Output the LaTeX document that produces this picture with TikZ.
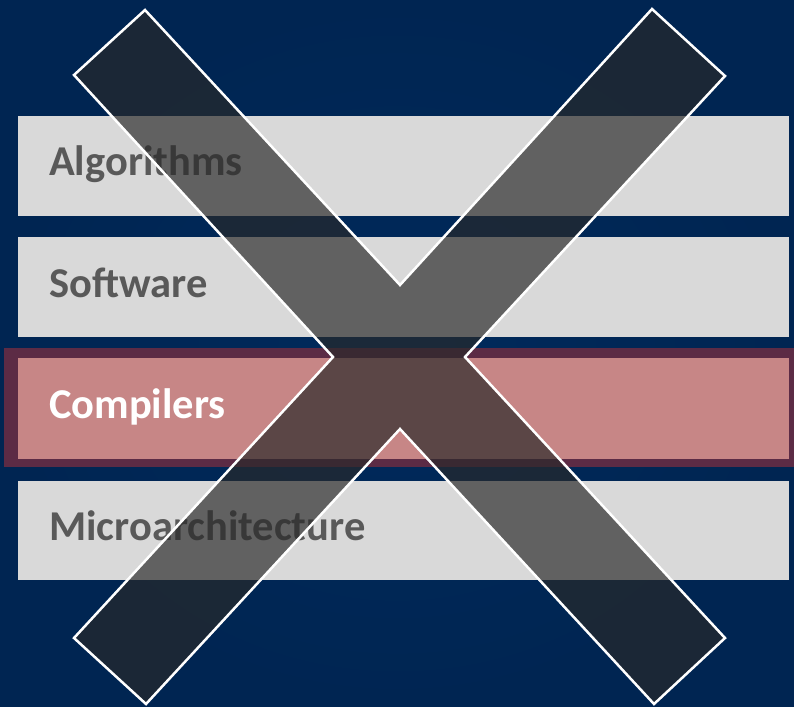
\documentclass[tikz,border=0pt]{standalone}
\usepackage{fontspec}
\setmainfont{Carlito}
\definecolor{bgblue}{RGB}{0,40,88}
\definecolor{bargray}{RGB}{217,217,217}
\definecolor{txtgray}{RGB}{89,89,89}
\definecolor{pinkfill}{RGB}{199,134,134}
\definecolor{pinkborder}{RGB}{92,43,69}
\definecolor{xfill}{RGB}{41,41,41}
\tikzset{
  bar/.style={fill=bargray, draw=none},
  lbl/.style={anchor=base west, inner sep=0pt, font=\fontsize{42.5}{42.5}\selectfont\bfseries, text=txtgray},
  xshape/.style={fill=xfill, fill opacity=0.68, draw=white, line width=2.5pt, line join=miter}
}
\begin{document}
\begin{tikzpicture}[x=1pt,y=-1pt]
\useasboundingbox (0,0) rectangle (794,706);
\begin{scope}
\clip (0,0) rectangle (794,706);
\shade[inner color={rgb,255:red,0;green,42;blue,92}, outer color={rgb,255:red,0;green,37;blue,82}] (0,0) rectangle (794,706);
% bars
\fill[bar] (18,116) rectangle (789,216);
\fill[bar] (18,237) rectangle (789,337);
\fill[pinkborder] (4,348) rectangle (800,467);
\fill[pinkfill] (18,358) rectangle (789,459);
\fill[bar] (18,481) rectangle (789,580);
\node[lbl] (alg) at (49,175) {Algorithms};
\node[lbl] (sw) at (49,297) {Software};
\node[lbl, text=white] (comp) at (49,418) {Compilers};
\node[lbl] (micro) at (49,540) {Microarchitecture};
% X
\draw[xshape] (145,10) -- (400,285) -- (652,9) -- (725,76) -- (465,357) -- (725,638) -- (654,704) -- (400,429) -- (146,704) -- (74,638) -- (333,357) -- (74,75) -- cycle;
\end{scope}
\end{tikzpicture}
\end{document}
